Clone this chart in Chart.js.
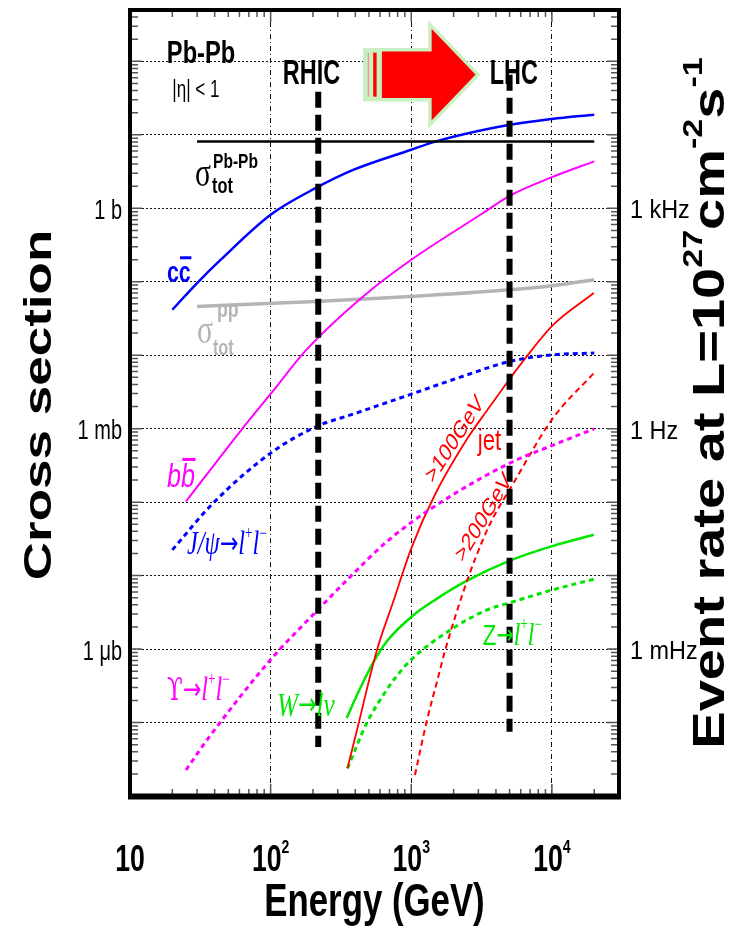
<!DOCTYPE html>
<html>
<head>
<meta charset="utf-8">
<script src="https://cdn.jsdelivr.net/npm/chart.js@4.4.0/dist/chart.umd.min.js"></script>
<style>
  html, body { margin: 0; padding: 0; background: #ffffff; }
  canvas { display: block; }
</style>
</head>
<body>
<canvas id="chart" width="747" height="928"></canvas>
<script>
// Collision energy in GeV, cross sections in barn.
const ppTotE = [30, 210, 1000, 5000, 10000, 20000];
const ppTotXS = [0.0461, 0.0539, 0.0631, 0.0778, 0.0882, 0.1065];

const pbpbTotE = [30, 20000];
const pbpbTotXS = [8.1, 8.1];

const ccbarE = [20, 30, 44, 100, 210, 390, 1000, 1500, 5000, 10000, 20000];
const ccbarXS = [0.0416, 0.096, 0.198, 0.817, 1.89, 3.35, 6.27, 8.14, 13.7, 16.4, 18.8];

const bbbarE = [25, 62, 100, 180, 455, 1000, 3240, 5000, 10000, 20000];
const bbbarXS = [1.02e-4, 9.65e-4, 2.97e-3, 0.0119, 0.0631, 0.199, 0.862, 1.48, 2.65, 4.35];

const jpsiE = [20, 39, 100, 212, 386, 1000, 2470, 5000, 10000, 20000];
const jpsiXS = [2.24e-5, 9.68e-5, 4.65e-4, 1.07e-3, 1.58e-3, 2.95e-3, 5.37e-3, 8.22e-3, 0.0101, 0.0107];

const upsE = [25, 36, 102, 201, 366, 667, 1430, 5020, 10000, 20000];
const upsXS = [2.26e-8, 6.1e-8, 7.5e-7, 2.95e-6, 9.55e-6, 2.88e-5, 8.51e-5, 3.4e-4, 5.89e-4, 9.95e-4];

const jet100E = [352, 420, 567, 743, 1005, 1472, 2472, 3622, 5024, 6240, 10050, 19860];
const jet100XS = [2.38e-8, 9.33e-8, 9.33e-7, 4.37e-6, 2.4e-5, 1.26e-4, 7.08e-4, 2.0e-3, 4.79e-3, 8.32e-3, 0.0251, 0.0702];

const jet200E = [1062, 1285, 1554, 1734, 2099, 2537, 2877, 3622, 5297, 10140, 19860];
const jet200XS = [1.93e-8, 1.02e-7, 4.17e-7, 9.33e-7, 3.16e-6, 9.33e-6, 1.78e-5, 5.01e-5, 1.78e-4, 1.38e-3, 5.71e-3];

const wE = [347, 420, 536, 667, 1030, 1513, 2472, 5024, 10050, 19860];
const wXS = [1.15e-7, 2.58e-7, 6.52e-7, 1.26e-6, 2.87e-6, 4.82e-6, 8.47e-6, 1.6e-5, 2.52e-5, 3.59e-5];

const zE = [352, 482, 667, 764, 1005, 1982, 3425, 5024, 10050, 19860];
const zXS = [2.38e-8, 9.8e-8, 2.77e-7, 3.98e-7, 7.24e-7, 1.92e-6, 3.39e-6, 4.27e-6, 6.38e-6, 8.93e-6];

// Collider energies (vertical markers) and their vertical extent
const rhicE = 218;
const rhicXS = [38.7, 4.65e-8];
const lhcE = 5000;
const lhcXS = [65.9, 7.5e-8];

// Axis ticks
const xDecades = [10, 100, 1000, 10000];
const xTickBase = ['10', '10', '10', '10'];
const xTickExp = ['', '2', '3', '4'];
const yDecades = [1e-8, 1e-7, 1e-6, 1e-5, 1e-4, 1e-3, 1e-2, 1e-1, 1, 10, 100];
const yLabelValues = [1, 1e-3, 1e-6];
const yTickLabels = ['1 b', '1 mb', '1 μb'];
const rateTickLabels = ['1 kHz', '1 Hz', '1 mHz'];

const FS = '"Liberation Sans", Arial, Helvetica, sans-serif';
const FR = '"Liberation Serif", "Times New Roman", serif';
const FD = '"DejaVu Sans", sans-serif';
const FDS = '"DejaVu Serif", serif';
const SQ = 0.74;   // horizontal glyph squeeze used throughout the figure

const BLUE = '#0000ff', MAG = '#ff00ff', RED = '#ff0000', GREEN = '#00e600', GRAY = '#b4b4b4';
const DOTS = [5, 4];

const pts = (E, S) => E.map((e, i) => ({ x: e, y: S[i] }));
function curve(label, E, S, color, width, dash) {
  return {
    label, data: pts(E, S), borderColor: color, borderWidth: width,
    borderDash: dash || [], pointRadius: 0, fill: false,
    cubicInterpolationMode: 'monotone', borderCapStyle: 'butt'
  };
}
function marker(label, E, S) {
  return {
    label, data: [{ x: E, y: S[0] }, { x: E, y: S[1] }], borderColor: '#000',
    borderWidth: 6, borderDash: [16, 7], pointRadius: 0, fill: false,
    tension: 0, borderCapStyle: 'butt'
  };
}

const datasets = [
  marker('RHIC', rhicE, rhicXS),
  marker('LHC', lhcE, lhcXS),
  curve('σtot Pb-Pb', pbpbTotE, pbpbTotXS, '#000', 2.5),
  curve('cc̄', ccbarE, ccbarXS, BLUE, 2.5),
  curve('bb̄', bbbarE, bbbarXS, MAG, 2),
  curve('σtot pp', ppTotE, ppTotXS, GRAY, 3.5),
  curve('J/ψ→l+l-', jpsiE, jpsiXS, BLUE, 3, DOTS),
  curve('Υ→l+l-', upsE, upsXS, MAG, 3, DOTS),
  curve('jet >100GeV', jet100E, jet100XS, RED, 1.8),
  curve('jet >200GeV', jet200E, jet200XS, RED, 2, [6, 4]),
  curve('W→lν', wE, wXS, GREEN, 2.5),
  curve('Z→l+l-', zE, zXS, GREEN, 3, DOTS)
];

// Text annotations anchored in data coordinates (E, σ)
const sup = (t, f, dy, x) => ({ t, f, dy, x });
const leptons = (size) => [
  { t: 'l', f: `italic ${size}px ${FR}` }, { t: '+', f: `18px ${FR}`, dy: -15 },
  { t: 'l', f: `italic ${size}px ${FR}` }, { t: '−', f: `18px ${FR}`, dy: -15 }
];
const notes = [
  { E: 32.0, S: 94.5, align: 'center', color: '#000', parts: [{ t: 'Pb-Pb', f: `bold 32px ${FS}` }] },
  { E: 29.4, S: 33.1, align: 'center', color: '#000', parts: [{ t: '|η| < 1', f: `23px ${FS}` }] },
  { E: 195, S: 48.9, align: 'center', color: '#000', sq: 0.67, parts: [{ t: 'RHIC', f: `bold 35px ${FS}` }] },
  { E: 5358, S: 48.9, align: 'center', color: '#000', sq: 0.67, parts: [{ t: 'LHC', f: `bold 35px ${FS}` }] },
  { E: 29.0, S: 1.985, color: '#000', parts: [
      { t: 'σ', f: `40px ${FR}` },
      sup('Pb-Pb', `bold 21px ${FS}`, -18.7, 18),
      sup('tot', `bold 22px ${FS}`, 6.3, 17) ] },
  { E: 29.9, S: 0.01476, color: GRAY, parts: [
      { t: 'σ', f: `40px ${FR}` },
      sup('pp', `bold 24px ${FS}`, -25.5, 20),
      sup('tot', `bold 22px ${FS}`, 12, 16) ] },
  { E: 18.3, S: 0.0999, color: BLUE, parts: [
      { t: 'c', f: `bold 29px ${FS}` },
      { t: 'c', f: `bold 29px ${FS}`, bar: -25.5 } ] },
  { E: 18.3, S: 1.61e-4, color: MAG, parts: [
      { t: 'b', f: `italic 34px ${FS}` },
      { t: 'b', f: `italic 34px ${FS}`, bar: -29 } ] },
  { E: 25.4, S: 1.98e-5, color: BLUE, parts: [
      { t: 'J/ψ', f: `italic 33px ${FR}` }, { t: '→', f: `30px ${FD}`, dy: -1 },
      ...leptons(33) ] },
  { E: 18.3, S: 2.03e-7, color: MAG, parts: [
      { t: 'ϒ', f: `31px ${FDS}` }, { t: '→', f: `30px ${FD}`, dy: -1 },
      ...leptons(33) ] },
  { E: 111, S: 1.23e-7, color: GREEN, parts: [
      { t: 'W', f: `italic 34px ${FR}` }, { t: '→', f: `30px ${FD}`, dy: -2 },
      { t: 'lν', f: `italic 34px ${FR}` } ] },
  { E: 3228, S: 1.14e-6, color: GREEN, parts: [
      { t: 'Z', f: `30px ${FS}` }, { t: '→', f: `28px ${FD}`, dy: -1 },
      ...leptons(32) ] },
  { E: 2972, S: 5.15e-4, color: RED, parts: [{ t: 'jet', f: `30px ${FS}` }] },
  { E: 2042, S: 7.05e-4, color: RED, align: 'center', base: 'middle', rot: -49, parts: [{ t: '>100GeV', f: `25px ${FS}` }] },
  { E: 3281, S: 6.1e-5, color: RED, align: 'center', base: 'middle', rot: -51, parts: [{ t: '>200GeV', f: `25px ${FS}` }] }
];

// Arrow from RHIC towards LHC, tail anchored at (E, σ)
const arrowAnchor = { E: 468, S: 65.9 };

function rich(ctx, parts, x, y, o) {
  o = o || {};
  const sq = o.sq || SQ;
  ctx.save();
  ctx.translate(x, y);
  ctx.scale(sq, 1);
  if (o.rot) ctx.rotate(o.rot * Math.PI / 180);
  ctx.textBaseline = o.base || 'alphabetic';
  ctx.textAlign = 'left';
  let cursor = 0, total = 0;
  const placed = parts.map(p => {
    ctx.font = p.f;
    const w = ctx.measureText(p.t).width;
    const px = (p.x !== undefined) ? p.x / sq : cursor;
    cursor = Math.max(cursor, px + w);
    total = Math.max(total, px + w);
    return { p, px, w };
  });
  let shift = 0;
  if (o.align === 'center') shift = -total / 2;
  else if (o.align === 'right') shift = -total;
  ctx.fillStyle = o.color || '#000';
  placed.forEach(({ p, px, w }) => {
    ctx.font = p.f;
    ctx.fillText(p.t, px + shift, p.dy || 0);
    if (p.bar !== undefined) ctx.fillRect(px + shift + w * 0.1, (p.dy || 0) + p.bar, w * 0.95, 3);
  });
  ctx.restore();
}

function drawArrow(ctx, x, y) {
  const L1 = 65, L2 = 48, h1 = 25, h2 = 50;
  ctx.save();
  ctx.beginPath();
  ctx.moveTo(x, y - h1);
  ctx.lineTo(x + L1, y - h1);
  ctx.lineTo(x + L1, y - h2);
  ctx.lineTo(x + L1 + L2, y);
  ctx.lineTo(x + L1, y + h2);
  ctx.lineTo(x + L1, y + h1);
  ctx.lineTo(x, y + h1);
  ctx.closePath();
  ctx.fillStyle = '#ff0000';
  ctx.fill();
  ctx.lineWidth = 3.5;
  ctx.lineJoin = 'miter';
  ctx.strokeStyle = '#c8f0c0';
  ctx.stroke();
  ctx.fillStyle = '#c8f0c0';
  ctx.fillRect(x, y - h1, 17, 2 * h1);
  ctx.fillStyle = '#ff0000';
  ctx.fillRect(x + 8.3, y - h1 + 3, 3.4, 2 * h1 - 6);
  ctx.fillStyle = '#f09090';
  ctx.fillRect(x + 2.8, y - h1 + 3, 1.3, 2 * h1 - 6);
  ctx.restore();
}

const decor = {
  id: 'decor',
  afterDatasetsDraw(chart) {
    const { ctx, scales: { x: xs, y: ys } } = chart;
    notes.forEach(n => {
      rich(ctx, n.parts, xs.getPixelForValue(n.E), ys.getPixelForValue(n.S),
        { align: n.align, base: n.base, rot: n.rot, sq: n.sq, color: n.color });
    });
    drawArrow(ctx, xs.getPixelForValue(arrowAnchor.E), ys.getPixelForValue(arrowAnchor.S));
  },
  afterDraw(chart) {
    const { ctx, chartArea: ca, scales: { x: xs, y: ys } } = chart;
    ctx.save();
    // inward tick marks on all four sides
    ctx.strokeStyle = '#555';
    ctx.lineWidth = 1.5;
    ctx.beginPath();
    xDecades.forEach(d => {
      for (let m = 1; m <= 9; m++) {
        const v = d * m;
        if (v <= xs.min || v >= xs.max) continue;
        const px = xs.getPixelForValue(v);
        const len = m === 1 ? 12 : 7;
        ctx.moveTo(px, ca.bottom); ctx.lineTo(px, ca.bottom - len);
        ctx.moveTo(px, ca.top); ctx.lineTo(px, ca.top + len);
      }
    });
    yDecades.forEach(d => {
      for (let m = 1; m <= 9; m++) {
        const v = d * m;
        if (v <= ys.min || v >= ys.max) continue;
        const py = ys.getPixelForValue(v);
        const len = m === 1 ? 12 : 8;
        ctx.moveTo(ca.left, py); ctx.lineTo(ca.left + len, py);
        ctx.moveTo(ca.right, py); ctx.lineTo(ca.right - len, py);
      }
    });
    ctx.stroke();
    // frame, with a slightly heavier base line
    ctx.strokeStyle = '#000';
    ctx.lineWidth = 4;
    ctx.strokeRect(ca.left, ca.top, ca.right - ca.left, ca.bottom - ca.top);
    ctx.lineWidth = 6;
    ctx.beginPath();
    ctx.moveTo(ca.left - 2, ca.bottom + 0.5);
    ctx.lineTo(ca.right + 2, ca.bottom + 0.5);
    ctx.stroke();
    ctx.restore();

    // x tick labels
    xDecades.forEach((v, i) => {
      const parts = [{ t: xTickBase[i], f: `bold 36px ${FS}` }];
      if (xTickExp[i]) parts.push({ t: xTickExp[i], f: `bold 19px ${FS}`, dy: -18 });
      rich(ctx, parts, xs.getPixelForValue(v), ca.bottom + 75, { align: 'center' });
    });
    // left (cross section) and right (event rate) labels
    yLabelValues.forEach((v, i) => {
      const py = ys.getPixelForValue(v);
      rich(ctx, [{ t: yTickLabels[i], f: `27px ${FS}` }], ca.left - 8, py + 3, { align: 'right', base: 'middle' });
      rich(ctx, [{ t: rateTickLabels[i], f: `26px ${FS}` }], ca.right + 11, py + 3, { base: 'middle', sq: 0.9 });
    });
    // axis titles
    rich(ctx, [{ t: 'Energy (GeV)', f: `bold 47px ${FS}` }], (ca.left + ca.right) / 2, ca.bottom + 107,
      { align: 'center', base: 'middle' });
    rich(ctx, [{ t: 'Cross section', f: `bold 53px ${FS}` }], 40, (ca.top + ca.bottom) / 2 + 2,
      { align: 'center', base: 'middle', rot: -90, sq: 0.72 });
    rich(ctx, [
      { t: 'Event rate at L=10', f: `bold 56px ${FS}` },
      { t: '27', f: `bold 34px ${FS}`, dy: -22 },
      { t: 'cm', f: `bold 56px ${FS}` },
      { t: '-2', f: `bold 34px ${FS}`, dy: -22 },
      { t: 's', f: `bold 56px ${FS}` },
      { t: '-1', f: `bold 34px ${FS}`, dy: -22 }
    ], 712, (ca.top + ca.bottom) / 2, { align: 'center', base: 'middle', rot: -90, sq: 0.8 });
  }
};

new Chart(document.getElementById('chart'), {
  type: 'line',
  data: { datasets },
  plugins: [decor],
  options: {
    responsive: false,
    animation: false,
    devicePixelRatio: 1,
    layout: { padding: { top: 10, right: 128, left: 0, bottom: 0 } },
    plugins: { legend: { display: false }, tooltip: { enabled: false } },
    scales: {
      x: {
        type: 'logarithmic', min: 10, max: 30000,
        afterBuildTicks: s => { s.ticks = xDecades.map(v => ({ value: v })); },
        afterFit: s => { s.height = 132; },
        ticks: { display: false },
        grid: { color: '#111', lineWidth: 1, drawTicks: false },
        border: { display: false, dash: [5, 3, 1, 3] }
      },
      y: {
        type: 'logarithmic', min: 1e-8, max: 500,
        afterBuildTicks: s => { s.ticks = yDecades.map(v => ({ value: v })); },
        afterFit: s => { s.width = 130; },
        ticks: { display: false },
        grid: { color: '#111', lineWidth: 1, drawTicks: false },
        border: { display: false, dash: [2, 2] }
      }
    }
  }
});
</script>
</body>
</html>
